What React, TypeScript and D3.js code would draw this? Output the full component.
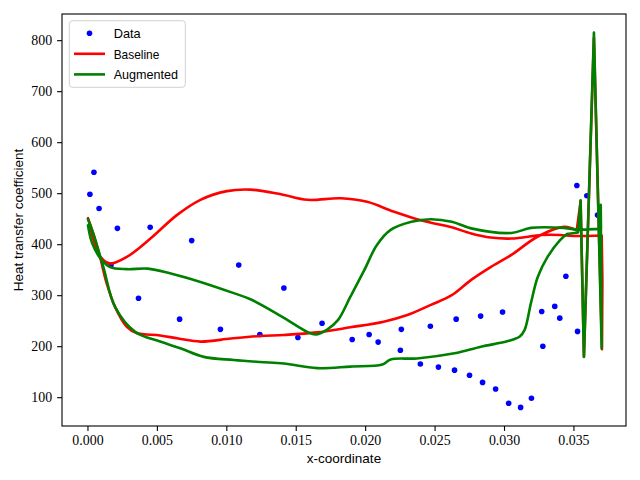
import { useRef, useEffect } from 'react';
import * as d3 from 'd3';

const W = 640;
const H = 480;
const M = { top: 14, right: 14, bottom: 54, left: 62 };

// measured points
const dataX = [
  0.00014, 0.00043, 0.0008, 0.00166, 0.00212, 0.00364, 0.00448, 0.0066, 0.00747, 0.00954,
  0.01086, 0.01238, 0.01411, 0.01512, 0.01686, 0.01903, 0.02025, 0.0209, 0.0225, 0.02257,
  0.02394, 0.02466, 0.02524, 0.0264, 0.02652, 0.02748, 0.02828, 0.02842, 0.02936, 0.02986,
  0.0303, 0.03116, 0.03194, 0.03268, 0.03276, 0.03362, 0.03398, 0.03442, 0.03521, 0.03526,
  0.03593, 0.0367,
];
const dataY = [
  499, 542, 471, 360, 432, 295, 434, 254, 408, 234,
  360, 224, 315, 218, 246, 214, 224, 209, 193, 234,
  166, 240, 160, 154, 254, 144, 260, 130, 117, 268,
  89, 81, 99, 269, 201, 279, 256, 338, 516, 230,
  496, 458,
];

// baseline curve, traced from leading edge round the trailing edge and back
const baselineX = [
  0.0, 0.0004, 0.00087, 0.00135, 0.00195, 0.0028, 0.0035, 0.0052, 0.0065, 0.0081,
  0.0103, 0.0124, 0.0141, 0.0165, 0.0189, 0.0213, 0.023, 0.0247, 0.0262, 0.0276,
  0.029, 0.0305, 0.0324, 0.0343, 0.0352, 0.03548, 0.03572, 0.03644, 0.03702, 0.03705,
  0.037, 0.036, 0.035, 0.034, 0.0327, 0.0305, 0.029, 0.0276, 0.0262, 0.0247,
  0.0237, 0.022, 0.0201, 0.0182, 0.0158, 0.0139, 0.0117, 0.01, 0.0081, 0.0064,
  0.0045, 0.0028, 0.0016, 0.0009, 0.0004, 0.0001,
];
const baselineY = [
  452, 420, 376, 324, 278, 239, 227, 222, 216, 210,
  216, 221, 223, 228, 238, 249, 262, 282, 301, 331,
  356, 380, 416, 435, 428, 485, 181, 805, 195, 330,
  418, 417, 417, 419, 419, 412, 414, 422, 434, 443,
  450, 465, 484, 491, 488, 499, 508, 505, 488, 458,
  412, 376, 363, 376, 410, 440,
];

const augmentedX = [
  0.0, 0.00038, 0.0011, 0.00195, 0.0034, 0.0052, 0.00665, 0.00834, 0.0105, 0.0124,
  0.0141, 0.0165, 0.0189, 0.0212, 0.0218, 0.0237, 0.0264, 0.0283, 0.03025, 0.0311,
  0.03145, 0.0319, 0.0324, 0.0331, 0.034, 0.0345, 0.0353, 0.03548, 0.03572, 0.03644,
  0.037, 0.03693, 0.03695, 0.036, 0.0353, 0.0343, 0.0319, 0.0305, 0.0276, 0.0262,
  0.0247, 0.0233, 0.0218, 0.0208, 0.0199, 0.0189, 0.018, 0.0172, 0.0164, 0.0158,
  0.0139, 0.0117, 0.0105, 0.0081, 0.0059, 0.0043, 0.0028, 0.0016, 0.0009, 0.0003,
  0.0,
];
const augmentedY = [
  450, 422, 357, 278, 229, 210, 197, 180, 174, 170,
  167, 158, 161, 165, 175, 177, 187, 200, 211, 220,
  233, 285, 337, 376, 409, 421, 424, 487, 180, 816,
  197, 478, 431, 430, 429, 433, 433, 423, 432, 445,
  450, 445, 429, 399, 350, 298, 252, 233, 224, 229,
  260, 293, 305, 327, 344, 353, 352, 356, 373, 403,
  438,
];

const xTicks = [0, 0.005, 0.01, 0.015, 0.02, 0.025, 0.03, 0.035];
const yTicks = [100, 200, 300, 400, 500, 600, 700, 800];

// beyond this x the trailing-edge spikes are drawn with straight segments
const SHARP_X = 0.0353;

const SERIF = '"Liberation Serif", "DejaVu Serif", serif';
const SANS = '"Liberation Sans", Arial, sans-serif';

export default function App() {
  const svgRef = useRef<SVGSVGElement>(null);

  useEffect(() => {
    const svg = d3.select(svgRef.current);
    svg.selectAll('*').remove();

    const x0 = M.left;
    const x1 = W - M.right;
    const y0 = M.top;
    const y1 = H - M.bottom;

    const x = d3.scaleLinear().domain([-0.00187, 0.03875]).range([x0, x1]);
    const y = d3.scaleLinear().domain([44.5, 852.3]).range([y1, y0]);

    svg.append('rect').attr('width', W).attr('height', H).attr('fill', '#ffffff');

    const smooth = d3
      .line<[number, number]>()
      .x((d) => x(d[0]))
      .y((d) => y(d[1]))
      .curve(d3.curveCatmullRom.alpha(0.5));
    const sharp = d3
      .line<[number, number]>()
      .x((d) => x(d[0]))
      .y((d) => y(d[1]));

    // split into smooth runs and the spiky trailing-edge run
    const buildPath = (xs: number[], ys: number[]) => {
      const pts = xs.map((v, i) => [v, ys[i]] as [number, number]);
      const first = pts.findIndex((p) => p[0] >= SHARP_X);
      let last = first;
      pts.forEach((p, i) => {
        if (p[0] >= SHARP_X) last = i;
      });
      const a = Math.max(0, first - 1);
      const b = Math.min(pts.length - 1, last + 1);
      return (
        (smooth(pts.slice(0, a + 1)) ?? '') +
        (sharp(pts.slice(a, b + 1)) ?? '') +
        (smooth(pts.slice(b)) ?? '')
      );
    };

    // data dots
    svg
      .append('g')
      .selectAll('circle')
      .data(dataX.map((v, i) => [v, dataY[i]] as [number, number]))
      .join('circle')
      .attr('cx', (d) => x(d[0]))
      .attr('cy', (d) => y(d[1]))
      .attr('r', 2.8)
      .attr('fill', '#0000ff');

    const curves: { xs: number[]; ys: number[]; color: string }[] = [
      { xs: baselineX, ys: baselineY, color: '#ff0000' },
      { xs: augmentedX, ys: augmentedY, color: '#008000' },
    ];
    curves.forEach((c) => {
      svg
        .append('path')
        .attr('d', buildPath(c.xs, c.ys))
        .attr('fill', 'none')
        .attr('stroke', c.color)
        .attr('stroke-width', 2.6)
        .attr('stroke-linejoin', 'round')
        .attr('stroke-linecap', 'round');
    });

    // frame
    svg
      .append('rect')
      .attr('x', x0)
      .attr('y', y0)
      .attr('width', x1 - x0)
      .attr('height', y1 - y0)
      .attr('fill', 'none')
      .attr('stroke', '#000')
      .attr('stroke-width', 1.1);

    // x ticks
    xTicks.forEach((t) => {
      svg
        .append('line')
        .attr('x1', x(t))
        .attr('x2', x(t))
        .attr('y1', y1)
        .attr('y2', y1 + 4.9)
        .attr('stroke', '#000')
        .attr('stroke-width', 1.1);
      svg
        .append('text')
        .attr('x', x(t))
        .attr('y', y1 + 18.5)
        .attr('text-anchor', 'middle')
        .attr('font-family', SERIF)
        .attr('font-size', 13.9)
        .attr('fill', '#000')
        .text(t.toFixed(3));
    });

    // y ticks
    yTicks.forEach((t) => {
      svg
        .append('line')
        .attr('x1', x0 - 4.9)
        .attr('x2', x0)
        .attr('y1', y(t))
        .attr('y2', y(t))
        .attr('stroke', '#000')
        .attr('stroke-width', 1.1);
      svg
        .append('text')
        .attr('x', x0 - 9.8)
        .attr('y', y(t) + 4.5)
        .attr('text-anchor', 'end')
        .attr('font-family', SERIF)
        .attr('font-size', 13.9)
        .attr('fill', '#000')
        .text(String(t));
    });

    // axis labels
    svg
      .append('text')
      .attr('x', (x0 + x1) / 2)
      .attr('y', 463)
      .attr('text-anchor', 'middle')
      .attr('font-family', SANS)
      .attr('font-size', 13.5)
      .attr('fill', '#000')
      .text('x-coordinate');

    svg
      .append('text')
      .attr('transform', 'rotate(-90)')
      .attr('x', -(y0 + y1) / 2)
      .attr('y', 23)
      .attr('text-anchor', 'middle')
      .attr('font-family', SANS)
      .attr('font-size', 13.5)
      .attr('fill', '#000')
      .text('Heat transfer coefficient');

    // legend
    const lg = svg.append('g');
    lg.append('rect')
      .attr('x', 69.3)
      .attr('y', 20.7)
      .attr('width', 116)
      .attr('height', 66.6)
      .attr('rx', 3)
      .attr('fill', '#ffffff')
      .attr('fill-opacity', 0.8)
      .attr('stroke', '#d0d0d0')
      .attr('stroke-width', 1);

    const entries = [
      { label: 'Data', color: '#0000ff', kind: 'dot' },
      { label: 'Baseline', color: '#ff0000', kind: 'line' },
      { label: 'Augmented', color: '#008000', kind: 'line' },
    ];
    entries.forEach((e, i) => {
      const cy = 33.2 + i * 20.6;
      if (e.kind === 'dot') {
        lg.append('circle').attr('cx', 89.5).attr('cy', cy).attr('r', 2.8).attr('fill', e.color);
      } else {
        lg.append('line')
          .attr('x1', 74)
          .attr('x2', 105)
          .attr('y1', cy)
          .attr('y2', cy)
          .attr('stroke', e.color)
          .attr('stroke-width', 2.6);
      }
      lg.append('text')
        .attr('x', 113.7)
        .attr('y', cy + 5)
        .attr('font-family', SANS)
        .attr('font-size', 13.4)
        .attr('textLength', [27, 45.6, 64.4][i])
        .attr('lengthAdjust', 'spacingAndGlyphs')
        .attr('fill', '#000')
        .text(e.label);
    });
  }, []);

  return (
    <div style={{ position: 'absolute', left: 0, top: 0 }}>
      <svg ref={svgRef} width={W} height={H} style={{ display: 'block' }} />
    </div>
  );
}
